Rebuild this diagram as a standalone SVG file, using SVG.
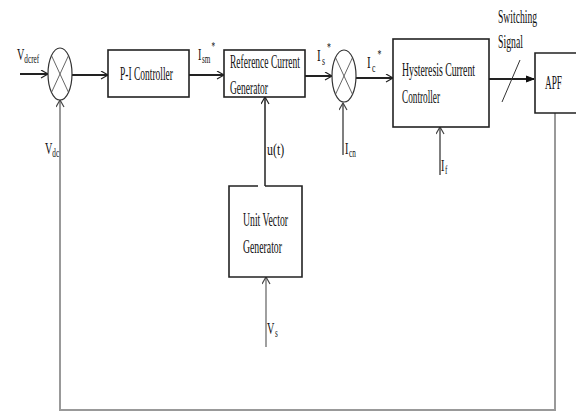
<svg xmlns="http://www.w3.org/2000/svg" width="576" height="414" viewBox="0 0 576 414">
<defs>
<marker id="arr" markerWidth="10" markerHeight="10" refX="8" refY="4" orient="auto" markerUnits="userSpaceOnUse">
<path d="M1,0 L8,4 L1,8" fill="none" stroke="#222" stroke-width="1.2"/>
</marker>
<marker id="arrf" markerWidth="10" markerHeight="10" refX="8" refY="4" orient="auto" markerUnits="userSpaceOnUse">
<path d="M0,1 L8,4 L0,7 Z" fill="#111" stroke="#111" stroke-width="1"/>
</marker>
<marker id="arrg" markerWidth="10" markerHeight="10" refX="8" refY="4" orient="auto" markerUnits="userSpaceOnUse">
<path d="M1,0 L8,4 L1,8" fill="none" stroke="#444" stroke-width="1.2"/>
</marker>
</defs>
<style>
.box{fill:#fff;stroke:#222;stroke-width:1.6}
.sum{fill:#fff;stroke:#333;stroke-width:1.2}
.x{stroke:#555;stroke-width:0.9}
.t{font-family:"Liberation Serif","Times New Roman",serif;font-size:18px;fill:#111}
.l{font-family:"Liberation Serif","Times New Roman",serif;font-size:17px;fill:#111}
.main{fill:none;stroke:#222;stroke-width:2}
.thin{fill:none;stroke:#555;stroke-width:1.5}
.fb{fill:none;stroke:#999;stroke-width:2}
</style>
<rect width="576" height="414" fill="#fff"/>

<g id="connectors">
<path class="main" d="M20,74 H48" marker-end="url(#arr)"/>
<path class="main" d="M72,75 H108" marker-end="url(#arr)"/>
<path class="main" d="M189,75 H224" marker-end="url(#arr)"/>
<path class="main" d="M305,76 H332" marker-end="url(#arr)"/>
<path class="main" d="M356,78 H393" marker-end="url(#arr)"/>
<path class="main" d="M489,79 H534" marker-end="url(#arrf)"/>
<path d="M502,102 L520,60" stroke="#333" stroke-width="1" fill="none"/>
<path class="fb" d="M555,113 V410 H60 V100" marker-end="url(#arrg)"/>
<path class="thin" d="M343,155 V103" marker-end="url(#arrg)"/>
<path class="thin" d="M440,175 V127" marker-end="url(#arrg)"/>
<path class="main" style="stroke-width:1.5" d="M265,186 V97" marker-end="url(#arr)"/>
<path class="fb" style="stroke:#888;stroke-width:1.6" d="M266,347 V277" marker-end="url(#arrg)"/>
</g>

<g id="sum1">
<ellipse class="sum" cx="60" cy="74" rx="12" ry="26"/>
<path class="x" d="M51.5,55.6 L68.5,92.4 M68.5,55.6 L51.5,92.4"/>
</g>
<g id="sum2">
<ellipse class="sum" cx="344" cy="76" rx="12" ry="26"/>
<path class="x" d="M335.5,57.6 L352.5,94.4 M352.5,57.6 L335.5,94.4"/>
</g>

<g id="pi">
<rect class="box" x="108" y="50" width="81" height="47"/>
<text class="t" x="120" y="80" textLength="53" lengthAdjust="spacingAndGlyphs">P-I Controller</text>
</g>

<g id="refgen">
<rect class="box" x="224" y="50" width="81" height="47"/>
<text class="t" x="230" y="68" textLength="70" lengthAdjust="spacingAndGlyphs">Reference Current</text>
<text class="t" x="230" y="94" textLength="38" lengthAdjust="spacingAndGlyphs">Generator</text>
</g>

<g id="hcc">
<rect class="box" x="393" y="39" width="96" height="88"/>
<text class="t" x="402" y="76" textLength="73" lengthAdjust="spacingAndGlyphs">Hysteresis Current</text>
<text class="t" x="402" y="103" textLength="38" lengthAdjust="spacingAndGlyphs">Controller</text>
</g>

<g id="apf">
<path class="box" d="M577,53 H535 V113 H577"/>
<text class="t" x="545" y="89" textLength="17" lengthAdjust="spacingAndGlyphs">APF</text>
</g>

<g id="uvg">
<path class="box" d="M258,186 H229 V277 H302 V186 H265" />
<text class="t" x="243" y="226" textLength="45" lengthAdjust="spacingAndGlyphs">Unit Vector</text>
<text class="t" x="243" y="253" textLength="39" lengthAdjust="spacingAndGlyphs">Generator</text>
</g>

<g id="labels">
<text class="t" x="498" y="23" textLength="39" lengthAdjust="spacingAndGlyphs">Switching</text>
<text class="t" x="498" y="48" textLength="25" lengthAdjust="spacingAndGlyphs">Signal</text>
<text class="l" transform="translate(17,60) scale(0.6,1)">V<tspan font-size="12" dy="3">dcref</tspan></text>
<text class="l" transform="translate(45,154) scale(0.6,1)">V<tspan font-size="12" dy="3">dc</tspan></text>
<text class="l" transform="translate(198,60) scale(0.6,1)">I<tspan font-size="12" dy="3" dx="1">sm</tspan><tspan font-size="12" dy="-13" dx="2">*</tspan></text>
<text class="l" transform="translate(317,61) scale(0.65,1)">I<tspan font-size="12" dy="4" dx="2">s</tspan><tspan font-size="12" dy="-14" dx="3">*</tspan></text>
<text class="l" transform="translate(367,68) scale(0.65,1)">I<tspan font-size="12" dy="4" dx="2">c</tspan><tspan font-size="12" dy="-14" dx="3">*</tspan></text>
<text class="l" transform="translate(345,154) scale(0.6,1)">I<tspan font-size="12" dy="3" dx="1">cn</tspan></text>
<text class="l" transform="translate(441,171) scale(0.6,1)">I<tspan font-size="12" dy="3" dx="1">f</tspan></text>
<text class="l" transform="translate(267,155) scale(0.7,1)">u(t)</text>
<text class="l" transform="translate(267,334) scale(0.6,1)">V<tspan font-size="12" dy="3" dx="1">s</tspan></text>
</g>
</svg>
